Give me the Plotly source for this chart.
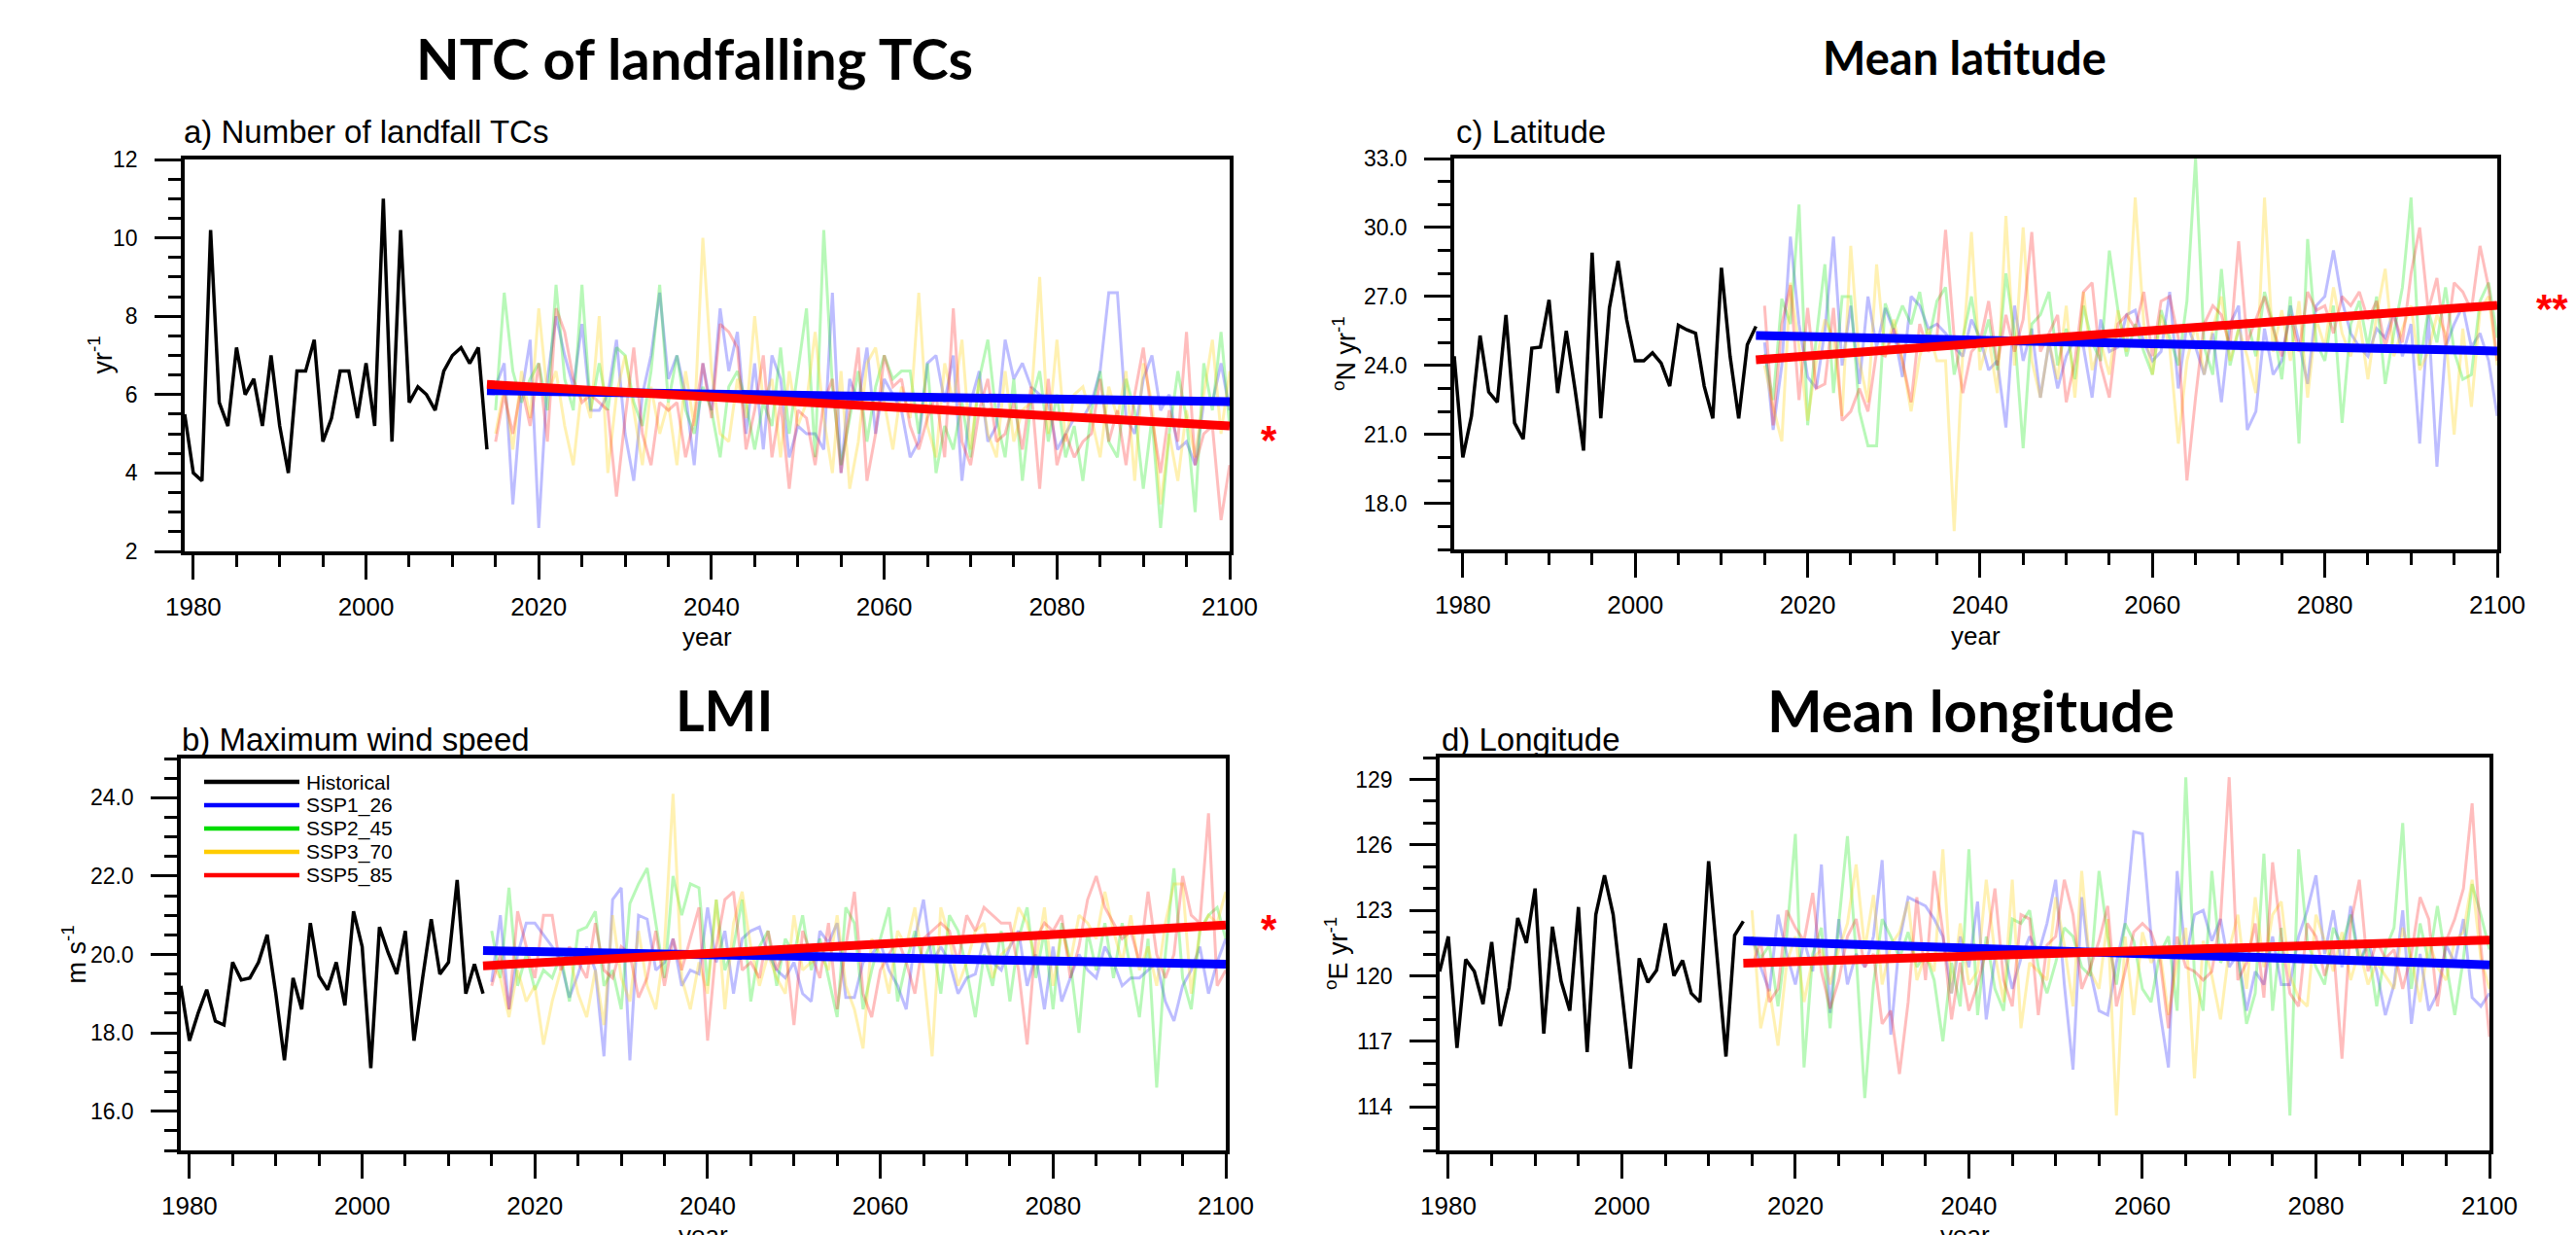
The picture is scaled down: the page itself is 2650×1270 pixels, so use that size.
import plotly.graph_objects as go

# ---------------- DATA ----------------
years_hist = list(range(1979, 2015))
years_ssp = list(range(2015, 2101))
trend_years = [2014, 2100]
scenario_names = ["Historical", "SSP1_26", "SSP2_45", "SSP3_70", "SSP5_85"]

# a) Number of landfall TCs (yr^-1)
hist_a = [5.5, 4.0, 3.8, 10.2, 5.8, 5.2, 7.2, 6.0, 6.4, 5.2, 7.0, 5.2, 4.0, 6.6, 6.6, 7.4, 4.8, 5.4,
          6.6, 6.6, 5.4, 6.8, 5.2, 11.0, 4.8, 10.2, 5.8, 6.2, 6.0, 5.6, 6.6, 7.0, 7.2, 6.8, 7.2, 4.6]
a_ssp126 = [6.2, 6.8, 3.2, 6.0, 7.4, 2.6, 6.4, 8.0, 7.0, 6.2,
            7.8, 5.6, 5.6, 6.0, 7.4, 5.0, 3.8, 6.0, 7.0, 8.6,
            6.4, 7.0, 6.0, 4.2, 6.8, 5.6, 8.2, 6.6, 7.6, 5.0,
            6.8, 4.6, 7.0, 6.4, 4.4, 5.2, 5.0, 5.0, 4.6, 8.6,
            4.0, 6.4, 5.8, 7.2, 5.0, 6.4, 6.0, 5.6, 4.4, 4.8,
            6.8, 7.0, 5.8, 7.0, 3.8, 5.8, 6.6, 4.8, 5.2, 7.4,
            6.4, 6.8, 6.2, 6.0, 5.8, 4.6, 5.0, 5.4, 5.4, 5.8,
            6.6, 8.6, 8.6, 5.4, 5.0, 6.4, 7.0, 5.6, 6.0, 4.6,
            4.8, 4.2, 5.8, 5.8, 6.8, 5.6]
a_ssp245 = [5.6, 8.6, 6.6, 5.8, 6.4, 6.8, 5.6, 8.8, 6.4, 5.6,
            8.8, 5.6, 6.8, 5.6, 7.2, 7.0, 5.8, 5.2, 6.6, 8.8,
            5.8, 7.0, 5.6, 5.0, 6.2, 5.6, 4.4, 6.2, 6.6, 5.8,
            4.6, 5.8, 5.2, 7.2, 5.0, 6.6, 8.2, 4.4, 10.2, 6.2,
            4.2, 5.4, 6.6, 4.8, 6.2, 7.0, 6.4, 6.6, 6.6, 5.0,
            6.8, 4.0, 5.2, 4.6, 5.8, 4.4, 6.4, 7.4, 5.4, 4.4,
            6.4, 3.8, 5.8, 6.6, 4.8, 6.0, 4.4, 5.2, 3.8, 5.6,
            6.6, 4.8, 4.4, 6.4, 5.6, 3.6, 5.4, 2.6, 5.0, 6.6,
            5.4, 3.0, 6.8, 5.6, 7.6, 5.2]
a_ssp370 = [5.0, 6.2, 4.6, 6.6, 5.4, 8.2, 6.0, 6.6, 5.2, 4.2,
            6.2, 5.4, 8.0, 4.0, 6.0, 7.0, 5.6, 4.2, 6.2, 5.0,
            5.8, 4.2, 6.6, 5.2, 10.0, 6.6, 5.0, 4.8, 6.4, 5.4,
            8.0, 5.8, 6.4, 4.4, 6.6, 5.2, 5.8, 7.6, 5.4, 4.0,
            6.6, 3.6, 4.8, 6.8, 7.2, 5.8, 4.6, 6.2, 5.4, 8.6,
            5.2, 4.4, 6.8, 5.8, 7.4, 4.6, 6.4, 5.0, 4.4, 6.6,
            4.8, 5.6, 5.8, 9.0, 5.0, 7.4, 4.8, 6.0, 6.2, 5.4,
            4.4, 6.2, 5.4, 6.6, 3.8, 6.8, 5.8, 3.2, 5.0, 3.8,
            5.6, 4.4, 6.0, 7.4, 5.0, 6.6]
a_ssp585 = [4.8, 6.0, 5.0, 6.2, 5.2, 6.8, 4.8, 8.2, 7.6, 6.4,
            5.8, 6.0, 5.8, 5.6, 3.4, 5.4, 7.2, 5.0, 4.2, 5.8,
            5.6, 5.8, 4.4, 5.4, 6.8, 5.4, 7.8, 7.6, 7.2, 4.6,
            5.6, 7.0, 4.4, 5.8, 3.6, 5.6, 5.4, 4.2, 5.8, 6.4,
            4.0, 5.6, 7.2, 3.8, 5.0, 7.0, 6.2, 6.4, 5.2, 4.6,
            5.4, 6.0, 4.4, 8.2, 4.8, 4.2, 5.6, 6.4, 4.8, 5.0,
            5.8, 4.6, 6.2, 3.6, 6.4, 4.2, 5.0, 4.4, 4.8, 5.0,
            6.4, 4.8, 5.6, 4.2, 6.0, 7.2, 5.4, 4.0, 5.6, 4.8,
            7.6, 4.2, 5.0, 5.2, 2.8, 4.2]
trend_a_ssp126 = [6.10, 5.82]
trend_a_ssp585 = [6.26, 5.20]

# b) Maximum wind speed (m s^-1)
hist_b = [19.2, 17.8, 18.5, 19.1, 18.3, 18.2, 19.8, 19.35, 19.4, 19.8, 20.5, 19.0, 17.3, 19.4, 18.6, 20.8, 19.45, 19.1,
          19.8, 18.7, 21.1, 20.2, 17.1, 20.7, 20.05, 19.5, 20.6, 17.8, 19.4, 20.9, 19.5, 19.8, 21.9, 19.0, 19.75, 19.0]
b_ssp126 = [19.3, 21.0, 18.6, 20.0, 20.8, 20.8, 20.5, 20.2, 19.8, 18.9,
            19.5, 20.2, 19.6, 17.4, 21.4, 21.7, 17.3, 21.0, 20.9, 19.6,
            19.8, 20.4, 19.2, 19.6, 19.5, 21.2, 19.8, 20.6, 19.0, 20.4,
            20.6, 20.7, 20.0, 19.6, 19.4, 19.8, 19.0, 18.8, 20.6, 20.3,
            20.8, 18.9, 18.9, 19.8, 20.0, 20.3, 19.6, 19.2, 18.6, 20.4,
            21.4, 19.8, 20.2, 19.8, 19.0, 19.4, 19.5, 20.4, 19.8, 19.6,
            20.2, 20.6, 19.2, 20.0, 18.6, 20.2, 18.8, 19.4, 20.0, 19.6,
            19.4, 20.2, 19.8, 19.2, 19.4, 19.4, 19.6, 19.8, 18.8, 18.3,
            19.2, 19.6, 20.2, 19.0, 19.8, 20.4]
b_ssp245 = [20.6, 19.4, 21.7, 19.2, 20.0, 19.1, 19.6, 19.4, 20.0, 18.8,
            20.6, 20.7, 21.1, 19.2, 19.6, 18.6, 21.3, 21.8, 22.2, 20.8,
            19.4, 22.0, 21.0, 21.8, 21.7, 19.2, 21.4, 19.6, 20.2, 21.4,
            18.8, 20.2, 20.6, 19.2, 20.4, 20.0, 21.0, 19.6, 20.4, 19.4,
            18.4, 21.2, 20.8, 18.6, 19.6, 20.4, 21.2, 18.8, 19.8, 20.6,
            19.8, 20.4, 19.0, 21.0, 20.6, 19.6, 18.4, 20.0, 19.2, 20.6,
            18.8, 20.4, 21.2, 19.4, 20.6, 18.6, 20.8, 19.8, 18.0, 20.6,
            19.6, 20.8, 19.4, 20.8, 19.6, 18.4, 20.4, 16.6, 20.0, 22.2,
            19.4, 18.6, 20.6, 21.0, 21.2, 20.4]
b_ssp370 = [19.8, 19.4, 18.4, 19.6, 18.8, 19.2, 17.7, 18.8, 19.6, 20.0,
            19.0, 18.4, 19.6, 18.2, 21.0, 19.4, 18.8, 20.6, 19.2, 18.6,
            20.2, 24.1, 19.4, 18.6, 19.8, 19.0, 21.4, 18.6, 20.8, 21.6,
            20.2, 19.2, 20.0, 19.4, 19.0, 21.0, 19.6, 19.8, 20.0, 19.6,
            21.0, 19.2, 18.6, 17.6, 20.4, 20.0, 19.0, 20.6, 20.2, 21.2,
            19.6, 17.4, 21.2, 20.4, 19.2, 19.8, 20.6, 20.8, 19.4, 20.0,
            20.2, 21.2, 20.8, 19.8, 21.2, 19.2, 20.6, 19.8, 21.0, 20.8,
            20.4, 21.6, 20.6, 19.8, 21.0, 19.6, 20.2, 19.2, 20.8, 21.8,
            21.8, 19.0, 20.6, 21.0, 20.8, 21.6]
b_ssp585 = [19.2, 20.0, 18.6, 21.1, 20.2, 19.4, 21.0, 21.0, 19.6, 20.2,
            19.8, 19.4, 20.8, 19.6, 19.4, 20.2, 20.0, 18.9, 19.4, 20.6,
            19.2, 20.4, 19.6, 20.4, 21.2, 17.8, 20.2, 21.4, 21.6, 19.6,
            19.8, 19.4, 20.6, 19.6, 20.2, 18.2, 20.6, 20.0, 19.4, 20.8,
            18.6, 20.2, 21.6, 19.0, 18.4, 19.6, 20.0, 20.4, 19.8, 19.0,
            20.4, 20.6, 20.8, 20.6, 19.8, 21.0, 20.6, 21.2, 21.0, 20.8,
            20.8, 19.6, 17.7, 20.4, 20.8, 20.6, 21.0, 19.4, 20.2, 21.4,
            22.0, 21.2, 20.8, 20.4, 20.6, 19.8, 21.6, 20.0, 19.4, 20.0,
            22.0, 21.0, 20.8, 23.6, 19.2, 19.6]
trend_b_ssp126 = [20.10, 19.75]
trend_b_ssp585 = [19.71, 20.75]

# c) Latitude (degN yr^-1)
hist_c = [24.4, 20.0, 21.8, 25.3, 22.85, 22.4, 26.2, 21.5, 20.8, 24.75, 24.8, 26.85, 22.8, 25.5, 23.0, 20.3, 28.9, 21.7,
          26.5, 28.55, 26.0, 24.2, 24.2, 24.55, 24.1, 23.1, 25.75, 25.55, 25.4, 23.1, 21.7, 28.25, 24.4, 21.7, 24.9, 25.7]
c_ssp126 = [25.0, 21.2, 24.0, 29.6, 25.8, 23.5, 23.0, 25.5, 29.6, 24.0,
            26.6, 23.2, 27.0, 24.8, 26.5, 25.5, 23.5, 27.0, 26.6, 25.6,
            25.8, 25.4, 24.8, 24.4, 26.0, 25.2, 23.8, 24.2, 21.3, 26.6,
            24.2, 25.6, 22.6, 25.0, 23.0, 24.4, 25.2, 24.8, 22.6, 26.0,
            24.6, 24.8, 26.2, 26.4, 25.0, 24.2, 24.6, 27.2, 23.0, 25.8,
            24.8, 23.6, 25.4, 22.4, 25.8, 26.6, 21.2, 22.0, 25.6, 23.6,
            24.2, 26.6, 25.0, 23.2, 26.6, 27.0, 29.0, 26.8, 25.4, 24.8,
            24.4, 25.6, 25.2, 26.4, 24.4, 25.8, 20.6, 26.2, 19.6, 24.8,
            25.8, 26.6, 24.8, 25.4, 24.2, 21.8]
c_ssp245 = [24.5, 22.5, 26.9, 25.8, 31.0, 21.4, 25.2, 28.4, 22.8, 27.0,
            27.0, 22.0, 20.5, 20.5, 26.7, 25.6, 26.6, 25.8, 27.2, 25.0,
            26.8, 27.4, 23.6, 25.2, 27.0, 24.6, 26.0, 23.8, 28.0, 25.4,
            20.4, 25.8, 26.2, 27.2, 24.0, 25.6, 23.4, 26.6, 25.0, 24.2,
            29.0, 26.4, 24.4, 25.8, 24.6, 23.6, 26.4, 25.2, 24.0, 26.8,
            33.0, 24.8, 23.6, 28.2, 24.0, 25.6, 26.0, 24.4, 27.2, 25.8,
            23.4, 27.0, 20.6, 29.5, 25.0, 24.2, 26.6, 21.5, 25.8, 26.8,
            24.8, 27.0, 23.2, 25.4, 27.4, 31.3, 24.0, 26.4, 25.0, 27.4,
            24.6, 23.4, 23.6, 26.8, 27.6, 25.2]
c_ssp370 = [24.0, 22.2, 20.7, 27.6, 24.8, 21.6, 24.2, 26.0, 25.2, 21.8,
            29.2, 24.2, 22.4, 28.4, 24.4, 26.0, 24.2, 22.0, 24.4, 25.6,
            24.2, 24.2, 16.8, 24.6, 29.8, 23.8, 25.2, 22.8, 30.5, 24.0,
            30.0, 24.2, 22.6, 25.0, 23.4, 26.6, 22.6, 27.2, 23.8, 25.0,
            23.6, 26.4, 24.6, 31.3, 25.8, 23.6, 26.2, 24.8, 20.6, 24.2,
            25.8, 23.6, 25.6, 27.0, 24.2, 25.6, 24.4, 22.8, 31.3, 24.6,
            26.4, 24.2, 26.8, 22.6, 26.0, 24.8, 27.4, 25.4, 24.4, 26.0,
            23.4, 26.2, 28.2, 24.4, 25.6, 26.6, 23.8, 24.6, 26.2, 25.4,
            21.0, 25.6, 22.2, 26.4, 27.0, 24.0]
c_ssp585 = [26.6, 21.4, 25.8, 27.5, 22.5, 26.5, 23.0, 23.2, 26.5, 21.6,
            22.0, 23.0, 22.0, 24.6, 24.4, 25.6, 24.2, 22.4, 25.8, 24.6,
            25.2, 29.9, 25.2, 22.8, 24.6, 25.0, 26.8, 24.0, 26.2, 24.6,
            26.0, 29.8, 24.6, 25.4, 26.2, 22.4, 24.2, 27.2, 27.6, 24.0,
            22.6, 25.8, 26.2, 25.6, 27.2, 24.4, 26.8, 27.0, 25.2, 19.0,
            22.6, 25.8, 26.6, 26.2, 24.8, 29.4, 25.0, 26.0, 27.0, 25.6,
            24.4, 26.2, 24.6, 27.2, 26.4, 26.6, 25.4, 27.0, 26.6, 27.2,
            26.0, 26.8, 24.8, 26.2, 25.0, 28.0, 30.0, 26.4, 27.8, 24.8,
            27.6, 27.2, 26.4, 29.2, 27.4, 24.2]
trend_c_ssp126 = [25.30, 24.63]
trend_c_ssp585 = [24.25, 26.62]

# d) Longitude (degE yr^-1)
hist_d = [120.2, 121.8, 116.7, 120.75, 120.2, 118.7, 121.55, 117.7, 119.45, 122.65, 121.5, 124.0, 117.35, 122.25,
          119.75, 118.4, 123.15, 116.5, 122.8, 124.6, 122.8, 119.15, 115.75, 120.8, 119.7, 120.25, 122.4, 120.0,
          120.7, 119.2, 118.8, 125.25, 120.8, 116.3, 121.85, 122.5]
d_ssp126 = [121.8, 120.4, 119.3, 122.8, 121.0, 119.6, 121.6, 120.2, 125.1, 118.3,
            122.6, 119.6, 121.0, 120.4, 121.8, 125.3, 117.3, 121.6, 123.6, 123.4,
            123.2, 122.6, 121.8, 119.2, 121.8, 120.4, 123.4, 118.0, 120.8, 121.2,
            119.4, 120.8, 121.8, 121.0, 122.4, 124.4, 119.6, 115.7, 123.6, 120.2,
            118.4, 118.2, 120.6, 122.4, 126.6, 126.5, 121.8, 118.4, 115.8, 124.8,
            120.8, 122.8, 123.0, 121.6, 122.6, 120.4, 121.0, 118.4, 120.2, 119.6,
            121.8, 119.6, 119.6, 121.8, 123.0, 124.6, 121.0, 123.0, 120.4, 123.2,
            120.6, 121.6, 120.2, 118.2, 119.6, 123.0, 117.8, 121.0, 118.4, 119.2,
            121.4, 120.6, 122.6, 119.0, 118.6, 119.2]
d_ssp245 = [121.8, 120.8, 121.4, 118.6, 121.8, 126.5, 115.8, 121.0, 122.2, 117.6,
            122.4, 126.4, 121.0, 114.4, 119.6, 122.6, 121.8, 120.8, 122.0, 120.4,
            121.0, 119.8, 117.0, 120.6, 118.6, 125.8, 118.2, 121.8, 119.4, 118.4,
            122.6, 122.4, 123.0, 120.4, 119.2, 120.6, 122.2, 121.8, 120.4, 120.0,
            124.8, 121.8, 119.6, 122.4, 121.6, 119.4, 118.8, 121.0, 121.8, 118.4,
            129.1, 120.0, 118.4, 124.8, 120.6, 121.4, 121.0, 117.8, 119.2, 125.6,
            118.4, 122.2, 113.6, 125.8, 121.6, 120.4, 119.6, 122.2, 121.4, 122.8,
            120.6, 121.4, 118.6, 121.2, 122.2, 127.0, 119.4, 122.4, 120.6, 123.2,
            120.6, 118.2, 120.8, 124.2, 122.8, 121.2]
d_ssp370 = [123.0, 117.6, 119.4, 116.8, 120.6, 121.8, 118.8, 120.8, 121.2, 119.6,
            121.2, 122.4, 125.1, 121.2, 123.7, 119.6, 121.4, 122.0, 123.4, 119.8,
            121.0, 120.2, 125.8, 119.2, 122.4, 119.6, 120.2, 124.4, 121.0, 118.8,
            124.4, 117.6, 120.6, 120.2, 119.8, 123.6, 121.4, 118.6, 124.8, 120.2,
            119.4, 122.6, 113.6, 121.8, 118.2, 122.0, 120.6, 121.2, 118.2, 120.6,
            122.2, 115.3, 121.6, 120.0, 118.0, 121.2, 122.8, 119.4, 123.6, 120.4,
            122.8, 123.4, 120.0, 119.0, 118.6, 122.8, 121.6, 120.2, 122.0, 119.8,
            121.2, 119.6, 120.6, 120.0, 119.4, 122.2, 120.8, 118.8, 121.6, 120.4,
            119.8, 121.6, 122.0, 124.4, 120.8, 119.4]
d_ssp585 = [120.4, 121.6, 118.8, 119.4, 123.0, 122.2, 121.6, 123.8, 120.2, 118.5,
            119.8, 121.8, 122.6, 120.4, 121.0, 117.8, 118.4, 115.5, 118.8, 123.6,
            119.8, 124.8, 122.0, 118.0, 120.6, 118.4, 119.6, 121.2, 124.0, 119.8,
            118.6, 122.8, 122.6, 118.2, 121.4, 121.8, 124.4, 122.8, 119.4, 120.4,
            121.6, 123.2, 118.6, 120.2, 122.0, 122.4, 122.0, 120.8, 117.6, 121.8,
            120.4, 120.2, 119.8, 120.2, 122.6, 129.1, 119.8, 120.6, 122.4, 119.0,
            125.2, 121.8, 119.2, 118.6, 122.4, 121.8, 120.0, 121.4, 116.2, 122.4,
            124.4, 120.2, 121.6, 120.8, 121.2, 119.4, 121.0, 123.6, 122.6, 118.6,
            121.6, 122.6, 124.0, 127.9, 121.4, 117.2]
trend_d_ssp126 = [121.60, 120.50]
trend_d_ssp585 = [120.58, 121.64]

x_tickvals = [1980, 2000, 2020, 2040, 2060, 2080, 2100]

# ---------------- STYLE / LAYOUT ----------------
W, H = 2650, 1270
def fx(p): return p / W
def fy(p): return 1 - p / H

TICK_FONT = "Liberation Sans"
TITLE_FONT = "Lato"
solid = ["rgb(0,0,0)", "rgb(0,0,255)", "rgb(0,220,0)", "rgb(255,204,0)", "rgb(255,0,0)"]
faint = ["rgba(0,0,255,0.26)", "rgba(0,230,0,0.28)", "rgba(255,210,0,0.30)", "rgba(255,0,0,0.26)"]

panels = [
    dict(hist=hist_a, ssp=[a_ssp126, a_ssp245, a_ssp370, a_ssp585], tr=[trend_a_ssp126, trend_a_ssp585],
         box=(190, 164, 1265, 567), yr=[2, 12], tick0=2, dt=2, mdt=0.5, fmt="d",
         ylab="yr<sup>-1</sup>", ylab_x=103,
         sub="a) Number of landfall TCs", sub_xy=(187, 136),
         big="NTC of landfalling TCs", big_size=58, big_xy=(714, 59), star="*", star_xy=(1305, 452),
         year_y=638),
    dict(hist=hist_b, ssp=[b_ssp126, b_ssp245, b_ssp370, b_ssp585], tr=[trend_b_ssp126, trend_b_ssp585],
         box=(186, 780, 1261, 1183), yr=[15, 25], tick0=16, dt=2, mdt=0.5, fmt=".1f",
         ylab="m s<sup>-1</sup>", ylab_x=76,
         sub="b) Maximum wind speed", sub_xy=(185, 760),
         big="LMI", big_size=57, big_xy=(745, 730), star="*", star_xy=(1305, 955),
         year_y=1253),
    dict(hist=hist_c, ssp=[c_ssp126, c_ssp245, c_ssp370, c_ssp585], tr=[trend_c_ssp126, trend_c_ssp585],
         box=(1496, 163, 2569, 565), yr=[16, 33], tick0=18, dt=3, mdt=1, fmt=".1f",
         ylab="<sup>o</sup>N yr<sup>-1</sup>", ylab_x=1383,
         sub="c) Latitude", sub_xy=(1496, 135),
         big="Mean latitude", big_size=47, big_xy=(2021, 59), star="**", star_xy=(2625, 318),
         year_y=637),
    dict(hist=hist_d, ssp=[d_ssp126, d_ssp245, d_ssp370, d_ssp585], tr=[trend_d_ssp126, trend_d_ssp585],
         box=(1481, 779, 2561, 1183), yr=[112, 130], tick0=114, dt=3, mdt=1, fmt="d",
         ylab="<sup>o</sup>E yr<sup>-1</sup>", ylab_x=1375,
         sub="d) Longitude", sub_xy=(1481, 760),
         big="Mean longitude", big_size=60, big_xy=(2027, 730), star=None, star_xy=None,
         year_y=1253),
]

fig = go.Figure()
annotations = []
shapes = []
layout_axes = {}

for i, p in enumerate(panels):
    n = "" if i == 0 else str(i + 1)
    xa, ya = "x" + n, "y" + n
    for k, series in enumerate(p["ssp"]):
        fig.add_trace(go.Scatter(x=years_ssp, y=series, mode="lines", xaxis=xa, yaxis=ya,
                                 line=dict(color=faint[k], width=3), showlegend=False, hoverinfo="skip"))
    fig.add_trace(go.Scatter(x=trend_years, y=p["tr"][0], mode="lines", xaxis=xa, yaxis=ya,
                             line=dict(color=solid[1], width=9), showlegend=False))
    fig.add_trace(go.Scatter(x=trend_years, y=p["tr"][1], mode="lines", xaxis=xa, yaxis=ya,
                             line=dict(color=solid[4], width=9), showlegend=False))
    fig.add_trace(go.Scatter(x=years_hist, y=p["hist"], mode="lines", xaxis=xa, yaxis=ya,
                             line=dict(color="black", width=3.5), showlegend=False))

    x0, y0, x1, y1 = p["box"]
    layout_axes["xaxis" + n] = dict(
        domain=[fx(x0), fx(x1)], anchor=ya, range=[1979, 2100], automargin=False,
        tickvals=x_tickvals, ticks="outside", ticklen=25, tickwidth=3, tickcolor="black",
        ticklabelstandoff=6,
        minor=dict(ticks="outside", ticklen=12, tickwidth=3, tickcolor="black", dtick=5, tick0=1980),
        showline=True, linewidth=3.5, linecolor="black", mirror=True,
        showgrid=False, zeroline=False,
        tickfont=dict(family=TICK_FONT, size=26, color="black"))
    layout_axes["yaxis" + n] = dict(
        domain=[fy(y1), fy(y0)], anchor=xa, range=p["yr"], automargin=False,
        tick0=p["tick0"], dtick=p["dt"], tickformat=p["fmt"],
        ticks="outside", ticklen=27, tickwidth=3, tickcolor="black", ticklabelstandoff=13,
        minor=dict(ticks="outside", ticklen=13, tickwidth=3, tickcolor="black", dtick=p["mdt"], tick0=p["yr"][0]),
        showline=True, linewidth=3.5, linecolor="black", mirror=True,
        showgrid=False, zeroline=False,
        tickfont=dict(family=TICK_FONT, size=23, color="black"))

    annotations.append(dict(text=p["sub"], x=fx(p["sub_xy"][0]), y=fy(p["sub_xy"][1]), xref="paper", yref="paper",
                            xanchor="left", yanchor="middle", showarrow=False,
                            font=dict(family=TICK_FONT, size=33, color="black")))
    annotations.append(dict(text="<b>" + p["big"] + "</b>", x=fx(p["big_xy"][0]), y=fy(p["big_xy"][1]),
                            xref="paper", yref="paper", xanchor="center", yanchor="middle", showarrow=False,
                            font=dict(family=TITLE_FONT, size=p["big_size"], color="black")))
    annotations.append(dict(text=p["ylab"], x=fx(p["ylab_x"]), y=fy((y0 + y1) / 2), xref="paper", yref="paper",
                            xanchor="center", yanchor="middle", textangle=-90, showarrow=False,
                            font=dict(family=TICK_FONT, size=27, color="black")))
    annotations.append(dict(text="year", x=fx((x0 + x1) / 2), y=fy(p["year_y"]), xref="paper", yref="paper",
                            xanchor="center", yanchor="top", showarrow=False,
                            font=dict(family=TICK_FONT, size=26, color="black")))
    if p["star"]:
        annotations.append(dict(text="<b>" + p["star"] + "</b>", x=fx(p["star_xy"][0]), y=fy(p["star_xy"][1]),
                                xref="paper", yref="paper", xanchor="center", yanchor="middle", showarrow=False,
                                font=dict(family=TICK_FONT, size=42, color="rgb(255,0,0)")))

leg_y = [804, 828, 852, 876, 900]
for name, col, yy in zip(scenario_names, solid, leg_y):
    shapes.append(dict(type="line", xref="paper", yref="paper", x0=fx(210), x1=fx(308), y0=fy(yy), y1=fy(yy),
                       line=dict(color=col, width=4.5)))
    annotations.append(dict(text=name, x=fx(313), y=fy(yy), xref="paper", yref="paper",
                            xanchor="left", yanchor="middle", showarrow=False,
                            font=dict(family=TICK_FONT, size=21, color="black")))

fig.update_layout(width=W, height=H, margin=dict(l=0, r=0, t=0, b=0, pad=0, autoexpand=False),
                  paper_bgcolor="white", plot_bgcolor="white", showlegend=False,
                  annotations=annotations, shapes=shapes, **layout_axes)

fig.write_html("out.html", config={"displayModeBar": False},
               post_script="document.body.style.margin='0';document.body.style.overflow='hidden';")
